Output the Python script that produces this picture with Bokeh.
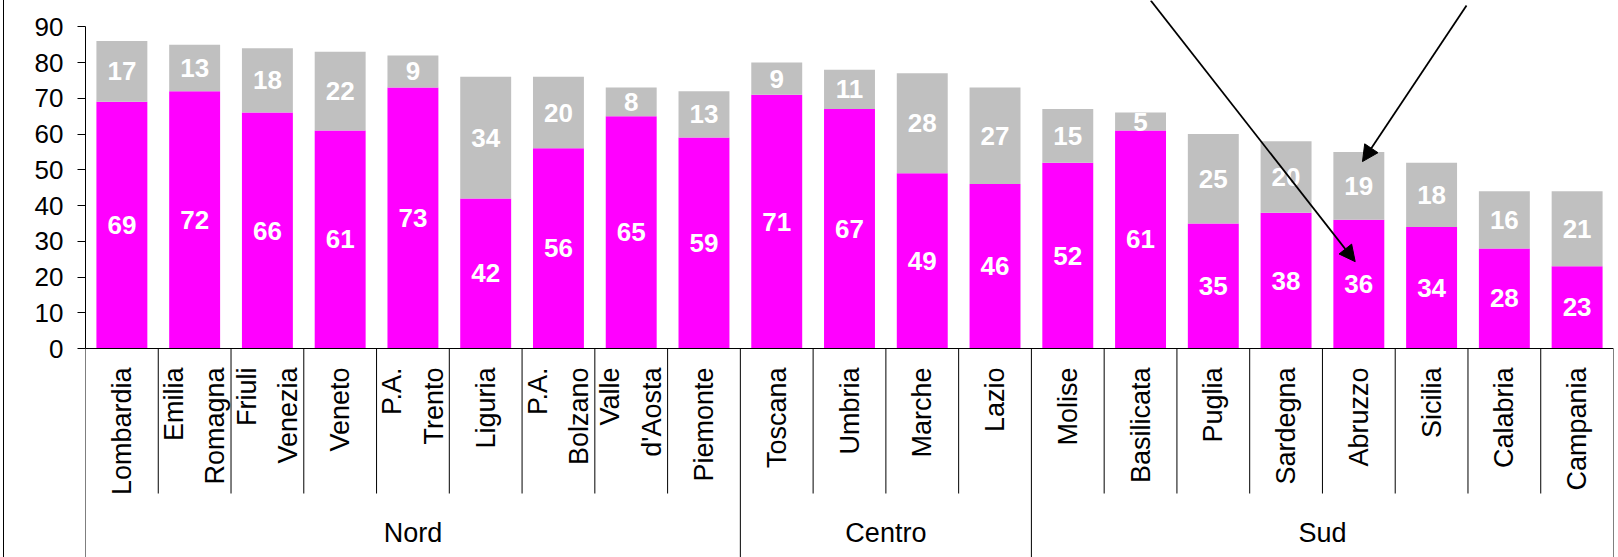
import math
from bokeh.plotting import figure
from bokeh.models import (ColumnDataSource, FactorRange, Range1d, FixedTicker,
                          Span, Arrow, NormalHead)
from bokeh.core.properties import value
from bokeh.embed import file_html
from bokeh.resources import INLINE

# ---------------- data ----------------
regions = ["Lombardia", "Emilia Romagna", "Friuli Venezia", "Veneto", "P.A. Trento",
           "Liguria", "P.A. Bolzano", "Valle d'Aosta", "Piemonte",
           "Toscana", "Umbria", "Marche", "Lazio",
           "Molise", "Basilicata", "Puglia", "Sardegna", "Abruzzo", "Sicilia",
           "Calabria", "Campania"]
region_labels = ["Lombardia", "Emilia\nRomagna", "Friuli\nVenezia", "Veneto", "P.A.\nTrento",
                 "Liguria", "P.A.\nBolzano", "Valle\nd'Aosta", "Piemonte",
                 "Toscana", "Umbria", "Marche", "Lazio",
                 "Molise", "Basilicata", "Puglia", "Sardegna", "Abruzzo", "Sicilia",
                 "Calabria", "Campania"]
groups = ["Nord", "Centro", "Sud"]
group_sizes = [9, 4, 8]
serie_magenta = [69, 72, 66, 61, 73, 42, 56, 65, 59, 71, 67, 49, 46, 52, 61, 35, 38, 36, 34, 28, 23]
serie_grigia = [17, 13, 18, 22, 9, 34, 20, 8, 13, 9, 11, 28, 27, 15, 5, 25, 20, 19, 18, 16, 21]
y_ticks = [0, 10, 20, 30, 40, 50, 60, 70, 80, 90]

# ---------------- style / layout ----------------
W, H = 1618, 557
Y_BOT, Y_TOP = -58.47, 97.36
PPU = H / (Y_TOP - Y_BOT)          # pixels per data unit
FONT = value("Liberation Sans")
MAGENTA = "#FF00FF"
GREY = "#C0C0C0"

src = ColumnDataSource(dict(
    region=regions,
    label=region_labels,
    magenta=serie_magenta,
    grigia=serie_grigia,
    mag_mid=[m / 2 for m in serie_magenta],
    gri_mid=[m + g / 2 for m, g in zip(serie_magenta, serie_grigia)],
    mag_txt=[str(v) for v in serie_magenta],
    gri_txt=[str(v) for v in serie_grigia],
))

p = figure(width=W, height=H,
           x_range=FactorRange(*regions, range_padding=0),
           y_range=Range1d(Y_BOT, Y_TOP),
           output_backend="svg", toolbar_location=None,
           x_axis_location=None, y_axis_location="left",
           min_border_left=85, min_border_right=5,
           min_border_top=0, min_border_bottom=0)
p.outline_line_color = None
p.xgrid.visible = False
p.ygrid.visible = False
p.background_fill_color = "white"
p.border_fill_color = None
p.styles = {"background": "linear-gradient(to right, #ffffff 3px, #000000 3px, #000000 4px, #ffffff 4px)"}

ax = p.yaxis[0]
ax.ticker = FixedTicker(ticks=y_ticks)
ax.bounds = (0, 90)
ax.major_tick_out = 8
ax.major_tick_in = 0
ax.minor_tick_line_color = None
ax.axis_line_color = "black"
ax.major_tick_line_color = "black"
ax.major_label_text_font = "Liberation Sans"
ax.major_label_text_font_size = "26px"
ax.major_label_text_color = "black"
ax.major_label_standoff = 14

# bars
p.vbar_stack(["magenta", "grigia"], x="region", width=0.70, source=src,
             fill_color=[MAGENTA, GREY], line_color=None)

# value labels
for ycol, tcol in (("mag_mid", "mag_txt"), ("gri_mid", "gri_txt")):
    p.text(x="region", y=ycol, text=tcol, source=src,
           text_align="center", text_baseline="middle",
           text_color="white", text_font=FONT, text_font_size="26px",
           text_font_style="bold")

# category axis drawn by hand
p.add_layout(Span(location=0, dimension="width", line_color="black", line_width=1))

bounds = list(range(len(regions) + 1))
group_edges = [0]
for s in group_sizes:
    group_edges.append(group_edges[-1] + s)
sep_y1 = [Y_BOT if b in group_edges else -145 / PPU for b in bounds]
p.segment(x0=bounds, y0=[0] * len(bounds), x1=bounds, y1=sep_y1,
          line_color="black", line_width=1)

p.text(x="region", y=-19 / PPU, text="label", source=src, angle=math.pi / 2,
       text_align="right", text_baseline="middle", text_color="black",
       text_font=FONT, text_font_size="27px", text_line_height=1.39)

group_centers = [(a + b) / 2 for a, b in zip(group_edges[:-1], group_edges[1:])]
p.text(x=group_centers, y=[-184 / PPU] * len(groups), text=groups,
       text_align="center", text_baseline="middle", text_color="black",
       text_font=FONT, text_font_size="27px")

# annotation arrows (callouts whose text is cut off at the top)
for xs, ys, xe, ye in ((14.64, Y_TOP, 17.45, 24.3), (18.98, 95.96, 17.55, 52.3)):
    p.add_layout(Arrow(end=NormalHead(size=16, fill_color="black", line_color="black"),
                       x_start=xs, y_start=ys, x_end=xe, y_end=ye,
                       line_color="black", line_width=1.8))

open("out.html", "w").write(file_html(p, INLINE))
